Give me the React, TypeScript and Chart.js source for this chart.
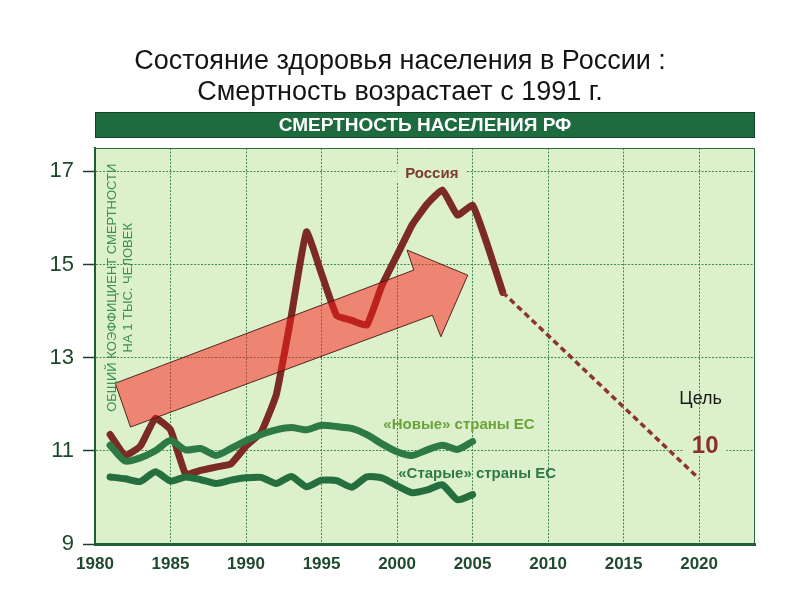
import React, { useEffect, useRef } from "react";
import { Chart, registerables } from "chart.js";

Chart.register(...registerables);

const FONT = "'Liberation Sans', Arial, sans-serif";

const titleLines = ["Состояние здоровья населения в России :", "Смертность возрастает с 1991 г."];
const bannerText = "СМЕРТНОСТЬ НАСЕЛЕНИЯ РФ";
const axisTitleLines = ["ОБЩИЙ КОЭФФИЦИЕНТ СМЕРТНОСТИ", "НА 1 ТЫС. ЧЕЛОВЕК"];

const russiaYears = [1981, 1982, 1983, 1984, 1985, 1986, 1987, 1988, 1989, 1990, 1991, 1992, 1993, 1994, 1995, 1996, 1997, 1998, 1999, 2000, 2001, 2002, 2003, 2004, 2005, 2006, 2007];
const russia = [11.35, 10.9, 11.1, 11.7, 11.45, 10.5, 10.58, 10.65, 10.72, 11.1, 11.4, 12.2, 13.9, 15.7, 14.8, 13.9, 13.8, 13.7, 14.55, 15.2, 15.85, 16.3, 16.6, 16.06, 16.27, 15.4, 14.4];

const euYears = [1981, 1982, 1983, 1984, 1985, 1986, 1987, 1988, 1989, 1990, 1991, 1992, 1993, 1994, 1995, 1996, 1997, 1998, 1999, 2000, 2001, 2002, 2003, 2004, 2005];
const newEU = [11.12, 10.78, 10.85, 11.0, 11.22, 11.02, 11.05, 10.9, 11.05, 11.22, 11.35, 11.45, 11.5, 11.45, 11.55, 11.52, 11.48, 11.35, 11.15, 10.98, 10.9, 11.02, 11.12, 11.03, 11.2];
const oldEU = [10.44, 10.4, 10.34, 10.55, 10.35, 10.44, 10.38, 10.3, 10.37, 10.42, 10.43, 10.3, 10.45, 10.23, 10.37, 10.36, 10.22, 10.44, 10.42, 10.25, 10.1, 10.16, 10.27, 9.95, 10.06];

const forecastYears = [2007, 2020];
const forecast = [14.4, 10.4];

const xTicks = [1980, 1985, 1990, 1995, 2000, 2005, 2010, 2015, 2020];
const yTicks = [9, 11, 13, 15, 17];

// Trend arrow outline (year, value)
const arrowX = [1981.34, 2001.11, 2000.66, 2004.68, 2002.9, 2002.34, 1982.35];
const arrowY = [12.45, 14.88, 15.31, 14.77, 13.45, 13.91, 11.51];

// Text annotations anchored in data space
const labelRussia = { text: "Россия", x: 2002.3, y: 16.95 };
const labelNew = { text: "«Новые» страны ЕС", x: 2004.1, y: 11.55 };
const labelOld = { text: "«Старые» страны ЕС", x: 2005.3, y: 10.5 };
const labelGoal = { text: "Цель", x: 2020.1, y: 12.12 };
const labelTen = { text: "10", x: 2020.4, y: 11.1 };

const PLOT_BG = "#ddf0cc";

const decor = {
  id: "decor",
  beforeDraw(chart: any) {
    const { ctx, chartArea: a } = chart;
    ctx.save();
    ctx.fillStyle = "#ffffff";
    ctx.fillRect(0, 0, chart.width, chart.height);
    ctx.fillStyle = "#141414";
    ctx.font = `27px ${FONT}`;
    ctx.textAlign = "center";
    ctx.textBaseline = "middle";
    ctx.fillText(titleLines[0], 400, 62);
    ctx.fillText(titleLines[1], 400, 93);
    // banner
    ctx.fillStyle = "#1e6b3f";
    ctx.fillRect(a.left, 112, a.right - a.left, 26);
    ctx.strokeStyle = "#0f4527";
    ctx.lineWidth = 1;
    ctx.strokeRect(a.left + 0.5, 112.5, a.right - a.left - 1, 25);
    ctx.fillStyle = "#ffffff";
    ctx.font = `bold 19px ${FONT}`;
    ctx.fillText(bannerText, (a.left + a.right) / 2, 126);
    // plot background
    ctx.fillStyle = PLOT_BG;
    ctx.fillRect(a.left, a.top, a.right - a.left, a.bottom - a.top);
    ctx.restore();
  },
  beforeDatasetsDraw(chart: any) {
    const { ctx, chartArea: a } = chart;
    ctx.save();
    ctx.strokeStyle = "#2b6a3c";
    ctx.lineWidth = 1;
    ctx.beginPath();
    ctx.moveTo(a.left, a.top + 0.5);
    ctx.lineTo(a.right - 0.5, a.top + 0.5);
    ctx.lineTo(a.right - 0.5, a.bottom);
    ctx.stroke();
    ctx.restore();
  },
  afterDatasetsDraw(chart: any) {
    const { ctx, chartArea: a } = chart;
    const xs = chart.scales.x;
    const ys = chart.scales.y;
    ctx.save();
    // arrow
    ctx.beginPath();
    arrowX.forEach((v, i) => {
      const px = xs.getPixelForValue(v);
      const py = ys.getPixelForValue(arrowY[i]);
      if (i === 0) ctx.moveTo(px, py);
      else ctx.lineTo(px, py);
    });
    ctx.closePath();
    ctx.fillStyle = "rgba(255,25,25,0.5)";
    ctx.fill();
    ctx.strokeStyle = "rgba(70,20,15,0.9)";
    ctx.lineWidth = 1;
    ctx.stroke();

    // axis title inside plot
    ctx.fillStyle = "#3d8f52";
    ctx.font = `13px ${FONT}`;
    ctx.textAlign = "center";
    ctx.textBaseline = "middle";
    const cy = ys.getPixelForValue(14.5);
    axisTitleLines.forEach((t, i) => {
      ctx.save();
      ctx.translate(a.left + 17 + i * 16, cy);
      ctx.rotate(-Math.PI / 2);
      ctx.fillText(t, 0, 0);
      ctx.restore();
    });

    const drawLabel = (l: any, font: string, color: string, knock: boolean) => {
      const px = xs.getPixelForValue(l.x);
      const py = ys.getPixelForValue(l.y);
      ctx.font = font;
      if (knock) {
        const w = ctx.measureText(l.text).width;
        ctx.fillStyle = PLOT_BG;
        ctx.fillRect(px - w / 2 - 8, py - 9, w + 16, 18);
      }
      ctx.fillStyle = color;
      ctx.fillText(l.text, px, py);
    };
    drawLabel(labelRussia, `bold 15px ${FONT}`, "#7b3b33", true);
    drawLabel(labelNew, `bold 15px ${FONT}`, "#6aa33a", false);
    drawLabel(labelOld, `bold 15px ${FONT}`, "#2f7a48", false);
    drawLabel(labelGoal, `18px ${FONT}`, "#1a1a1a", false);
    drawLabel(labelTen, `bold 24px ${FONT}`, "#8b2e2e", true);
    ctx.restore();
  },
};

export default function App() {
  const ref = useRef<HTMLCanvasElement | null>(null);
  useEffect(() => {
    if (!ref.current) return;
    const toPts = (xs: number[], ys: number[]) => xs.map((x, i) => ({ x, y: ys[i] }));
    const chart = new Chart(ref.current, {
      type: "line",
      data: {
        datasets: [
          {
            label: "Старые страны ЕС",
            data: toPts(euYears, oldEU),
            borderColor: "#256e3e",
            borderWidth: 7,
            pointRadius: 0,
            tension: 0.2,
            borderCapStyle: "round",
            borderJoinStyle: "round",
          },
          {
            label: "Новые страны ЕС",
            data: toPts(euYears, newEU),
            borderColor: "#2d7a46",
            borderWidth: 7,
            pointRadius: 0,
            tension: 0.25,
            borderCapStyle: "round",
            borderJoinStyle: "round",
          },
          {
            label: "Прогноз",
            data: toPts(forecastYears, forecast),
            borderColor: "#8b3434",
            borderWidth: 3.5,
            borderDash: [6, 4],
            pointRadius: 0,
          },
          {
            label: "Россия",
            data: toPts(russiaYears, russia),
            borderColor: "#7b2a24",
            borderWidth: 7,
            pointRadius: 0,
            tension: 0.12,
            borderCapStyle: "round",
            borderJoinStyle: "round",
          },
        ],
      },
      options: {
        responsive: false,
        animation: false,
        devicePixelRatio: 1,
        layout: { padding: { top: 148, right: 45, left: 0, bottom: 0 } },
        plugins: { legend: { display: false }, tooltip: { enabled: false }, title: { display: false } },
        scales: {
          x: {
            type: "linear",
            min: 1980,
            max: 2023.7,
            afterBuildTicks: (s: any) => {
              s.ticks = xTicks.map((v) => ({ value: v }));
            },
            afterFit: (s: any) => {
              s.height = 56;
            },
            grid: { color: "#3d8a52", lineWidth: 1, drawTicks: false, tickBorderDash: [] },
            border: { display: true, color: "#1f5e34", width: 3, dash: [2, 1.5] },
            ticks: {
              color: "#1f4a2e",
              font: { family: FONT, size: 17, weight: "bold" },
              padding: 10,
              maxRotation: 0,
              autoSkip: false,
              callback: (v: any) => String(v),
            },
          },
          y: {
            type: "linear",
            min: 9,
            max: 17.5,
            afterBuildTicks: (s: any) => {
              s.ticks = yTicks.map((v) => ({ value: v }));
            },
            afterFit: (s: any) => {
              s.width = 95;
            },
            grid: { color: "#3d8a52", lineWidth: 1, tickColor: "#1f3f2a", tickLength: 12, tickWidth: 1.5, tickBorderDash: [] },
            border: { display: true, color: "#1f5e34", width: 2, dash: [2, 1.5] },
            ticks: { color: "#1d4a2c", font: { family: FONT, size: 22 }, padding: 9 },
          },
        },
      },
      plugins: [decor],
    } as any);
    return () => chart.destroy();
  }, []);
  return (
    <div style={{ position: "absolute", left: 0, top: 0, width: 800, height: 600 }}>
      <canvas ref={ref} width={800} height={600} />
    </div>
  );
}
